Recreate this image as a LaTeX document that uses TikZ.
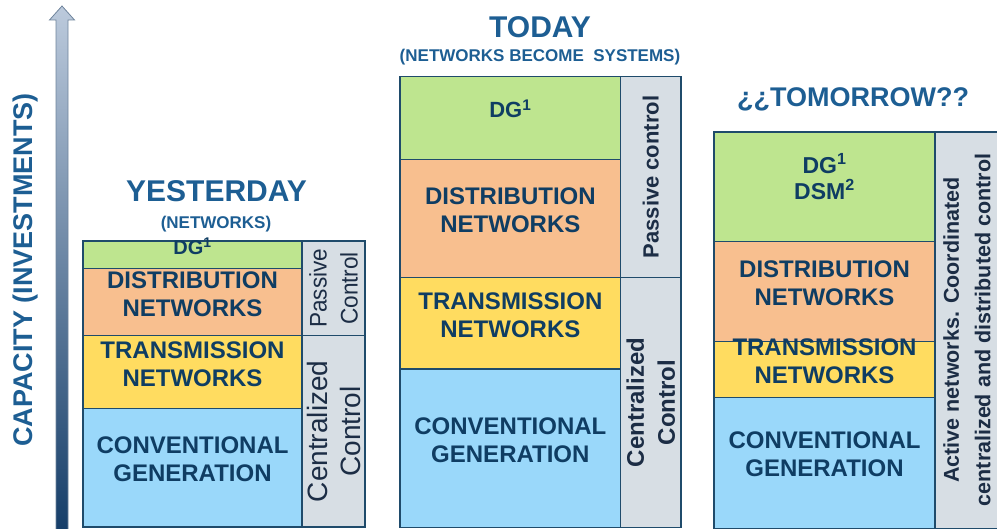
\documentclass[tikz,border=0pt]{standalone}
\usepackage{fontspec}
\setmainfont{Liberation Sans}
\usetikzlibrary{fit}
\definecolor{gGreen}{HTML}{BEE58F}
\definecolor{gOrange}{HTML}{F8BF8F}
\definecolor{gYellow}{HTML}{FFDC60}
\definecolor{gBlue}{HTML}{9AD8FA}
\definecolor{gGrey}{HTML}{D7DEE4}
\definecolor{edgeC}{HTML}{1F4B6B}
\definecolor{txtC}{HTML}{0F3D63}
\definecolor{ctlC}{HTML}{1C2D45}
\definecolor{titleC}{HTML}{1D5E93}
\definecolor{arrTop}{HTML}{BCCADC}
\definecolor{arrBot}{HTML}{163E69}
\definecolor{arrEdge}{HTML}{6F849C}
\begin{document}
\begin{tikzpicture}[x=1pt,y=-1pt,
  cell/.style={draw=edgeC, line width=1.3pt, inner sep=0pt, align=center, text=txtC,
    font=\bfseries\fontsize{24}{28}\selectfont},
  ctl/.style={draw=edgeC, line width=1.3pt, fill=gGrey, inner sep=0pt},
  ctltxt/.style={rotate=90, align=center, text=ctlC, inner sep=0pt},
  ttl/.style={text=titleC, anchor=base, inner sep=0pt, font=\bfseries\fontsize{30}{34}\selectfont},
  subttl/.style={text=titleC, anchor=base, inner sep=0pt, font=\bfseries\fontsize{17}{20}\selectfont}]
\useasboundingbox (0,0) rectangle (997,529);
\clip (0,0) rectangle (997,529);

% capacity axis
\coordinate (axTop) at (62,6);
\coordinate (axBot) at (62,530);
\shade[top color=arrTop, bottom color=arrBot, draw=arrEdge, line width=0.8pt]
  (56,530) -- (56,20) -- (49.5,20) -- (axTop) -- (74.5,20) -- (68,20) -- (68,530) -- cycle;
\node[rotate=90, text=titleC, font=\bfseries\fontsize{27}{30}\selectfont] (ylab) at (26,270)
  {CAPACITY (INVESTMENTS)};

% ---------- YESTERDAY ----------
\node[ttl] (yT) at (216.5,202) {YESTERDAY};
\node[subttl] (yS) at (216,229) {(NETWORKS)};
\node[cell, fill=gGreen, fit={(83,241) (302,268.7)}, font=\bfseries\fontsize{20}{24}\selectfont] (yDG) {DG\textsuperscript{1}};
\node[cell, fill=gOrange, fit={(83,268.7) (302,335.7)}] (yDN) {DISTRIBUTION\\NETWORKS};
\node[cell, fill=gYellow, fit={(83,335.7) (302,408.7)}] (yTN) {TRANSMISSION\\NETWORKS};
\node[cell, fill=gBlue, fit={(83,408.7) (302,527)}] (yCG) {CONVENTIONAL\\GENERATION};
\node[ctl, fit={(302,241) (365,335.7)}] (yPC) {};
\node[ctl, fit={(302,335.7) (365,527)}] (yCC) {};
\node[ctltxt, font=\fontsize{24}{31}\selectfont] at (yPC.center)
  {\scalebox{0.94}[1]{Passive}\\\scalebox{0.94}[1]{Control}};
\node[ctltxt, font=\fontsize{28}{33}\selectfont] at (yCC.center) {Centralized\\Control};

% ---------- TODAY ----------
\node[ttl] (tT) at (540,38) {TODAY};
\node[subttl] (tS) at (540,61.5) {(NETWORKS BECOME\ \ SYSTEMS)};
\node[cell, fill=gGreen, fit={(400,76.7) (620.7,159.3)}, font=\bfseries\fontsize{22}{26}\selectfont] (tDG) {DG\textsuperscript{1}};
\node[cell, fill=gOrange, fit={(400,159.3) (620.7,277.3)}] (tDN) {DISTRIBUTION\\NETWORKS};
\node[cell, fill=gYellow, fit={(400,277.3) (620.7,369)}] (tTN) {TRANSMISSION\\NETWORKS};
\node[cell, fill=gBlue, fit={(400,369) (620.7,527.7)}] (tCG) {CONVENTIONAL\\GENERATION};
\node[ctl, fit={(620.7,76.7) (681,277.3)}] (tPC) {};
\node[ctl, fit={(620.7,277.3) (681,527.7)}] (tCC) {};
\node[ctltxt, font=\bfseries\fontsize{22}{26}\selectfont] at (tPC.center) {Passive control};
\node[ctltxt, font=\bfseries\fontsize{24}{31}\selectfont] at (tCC.center) {Centralized\\Control};

% ---------- TOMORROW ----------
\node[ttl, font=\bfseries\fontsize{27}{30}\selectfont] (mT) at (853,106.5) {¿¿TOMORROW??};
\node[cell, fill=gGreen, fit={(714,132) (935,241.7)}, font=\bfseries\fontsize{23}{26}\selectfont] (mDG)
  {DG\textsuperscript{1}\\DSM\textsuperscript{2}};
\node[cell, fill=gOrange, fit={(714,241.7) (935,341.7)}] (mDN) {DISTRIBUTION\\NETWORKS};
\node[cell, fill=gYellow, fit={(714,341.7) (935,397.3)}] (mTN) {TRANSMISSION\\NETWORKS};
\node[cell, fill=gBlue, fit={(714,397.3) (935,528.3)}] (mCG) {CONVENTIONAL\\GENERATION};
\node[ctl, fit={(935,132) (1010,528.3)}] (mAC) {};
\node[ctltxt, font=\bfseries\fontsize{21.5}{31.5}\selectfont] at (967,330)
  {Active networks. Coordinated\\centralized and distributed control};
\end{tikzpicture}
\end{document}
